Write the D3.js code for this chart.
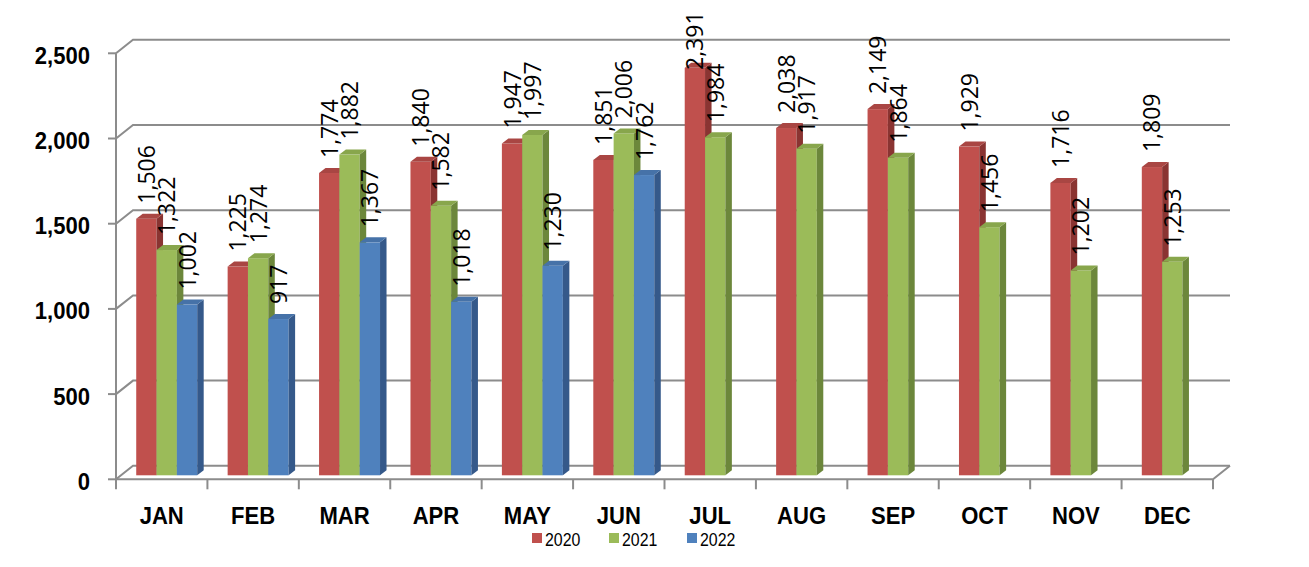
<!DOCTYPE html>
<html><head><meta charset="utf-8">
<script src="https://cdn.jsdelivr.net/npm/d3@7"></script>
<style>body{margin:0;background:#fff}svg{display:block}</style>
</head><body><svg id="c" width="1309" height="567"></svg>
<script>
const months = ["JAN","FEB","MAR","APR","MAY","JUN","JUL","AUG","SEP","OCT","NOV","DEC"];
const seriesNames = ["2020","2021","2022"];
const v2020 = [1506,1225,1774,1840,1947,1851,2391,2038,2149,1929,1716,1809];
const v2021 = [1322,1274,1882,1582,1997,2006,1984,1917,1864,1456,1202,1253];
const v2022 = [1002,917,1367,1018,1230,1762,null,null,null,null,null,null];
const yTicks = [0,500,1000,1500,2000,2500];

const series = [v2020, v2021, v2022];
const colors = [
  {front:"#C0504D", top:"#A94643", side:"#8A3432"},
  {front:"#9BBB59", top:"#88A64C", side:"#6C873B"},
  {front:"#4F81BD", top:"#4672A8", side:"#35598A"}
];
const svg = d3.select("#c");
const x = d3.scaleBand().domain(months).range([116,1213]).padding(0);
const inner = d3.scaleBand().domain(seriesNames).range([0, x.bandwidth()*0.667]).padding(0);
const innerOff = (x.bandwidth() - x.bandwidth()*0.667)/2;
const y = d3.scaleLinear().domain([0,2500]).range([479.3,53.3]);
const WD = 17, WH = 13.5; // wall depth
const BX = 5, BY = 4;     // bar depth offset
const DX = 6.5, DY = 5;   // bar depth
const gray = "#8c8c8c";

const grid = svg.append("g").attr("fill","none").attr("stroke",gray).attr("stroke-width",2);
yTicks.forEach(t=>{
  const yy = y(t);
  grid.append("path").attr("d",`M116,${yy}L${116+WD},${yy-WH}L${1213+WD},${yy-WH}`);
  grid.append("line").attr("x1",108).attr("x2",116).attr("y1",yy).attr("y2",yy);
});
grid.append("line").attr("x1",116).attr("x2",116).attr("y1",y(2500)).attr("y2",y(0)+1);
grid.append("path").attr("d",`M116,${y(0)}L1213,${y(0)}L${1213+WD},${y(0)-WH}`);
const xb = months.map(m=>x(m)).concat([1213]);
xb.forEach(xx=>{
  grid.append("line").attr("x1",xx).attr("x2",xx).attr("y1",y(0)).attr("y2",y(0)+10);
});

const bars = svg.append("g");
const labels = [];
months.forEach((m,i)=>{
  series.forEach((s,j)=>{
    const v = s[i];
    if (v==null) return;
    const x0 = x(m) + innerOff + inner(seriesNames[j]) + BX;
    const w = inner.bandwidth();
    const yt = y(v) - BY, yb = y(0) - BY;
    const c = colors[j];
    bars.append("rect").attr("x",x0).attr("y",yt).attr("width",w).attr("height",yb-yt).attr("fill",c.front);
    bars.append("path").attr("d",`M${x0+w},${yt}L${x0+w+DX},${yt-DY}L${x0+w+DX},${yb-DY}L${x0+w},${yb}Z`).attr("fill",c.side);
    bars.append("path").attr("d",`M${x0},${yt}L${x0+DX},${yt-DY}L${x0+w+DX},${yt-DY}L${x0+w},${yt}Z`).attr("fill",c.top);
    labels.push({x:x0+w/2+8.5, y:Math.max(yt-15, 70), t:d3.format(",")(v)});
  });
});
svg.append("g").selectAll("text").data(labels).join("text")
  .attr("transform",d=>`translate(${d.x},${d.y}) rotate(-90)`)
  .attr("font-family","'Open Sans', sans-serif").attr("font-size",23)
  .attr("fill","#000").text(d=>d.t);

svg.append("g").selectAll("g").data(yTicks).join("g")
  .attr("transform",d=>`translate(90,${y(d)+10.5}) scale(0.92,1)`)
  .append("text").attr("text-anchor","end")
  .attr("font-family","'Liberation Sans', Arial, sans-serif").attr("font-weight","bold").attr("font-size",24)
  .text(d=>d3.format(",")(d));
svg.append("g").selectAll("g").data(months).join("g")
  .attr("transform",d=>`translate(${x(d)+x.bandwidth()/2},524) scale(0.92,1)`)
  .append("text").attr("text-anchor","middle")
  .attr("font-family","'Liberation Sans', Arial, sans-serif").attr("font-weight","bold").attr("font-size",24)
  .text(d=>d);
const legX = [532,609,687];
const leg = svg.append("g");
seriesNames.forEach((n,j)=>{
  leg.append("rect").attr("x",legX[j]).attr("y",533).attr("width",10).attr("height",10).attr("fill",colors[j].front);
  leg.append("g").attr("transform",`translate(${legX[j]+13},546) scale(0.86,1)`)
    .append("text").attr("font-family","'Liberation Sans', Arial, sans-serif").attr("font-size",18.5).text(n);
});
</script></body></html>
